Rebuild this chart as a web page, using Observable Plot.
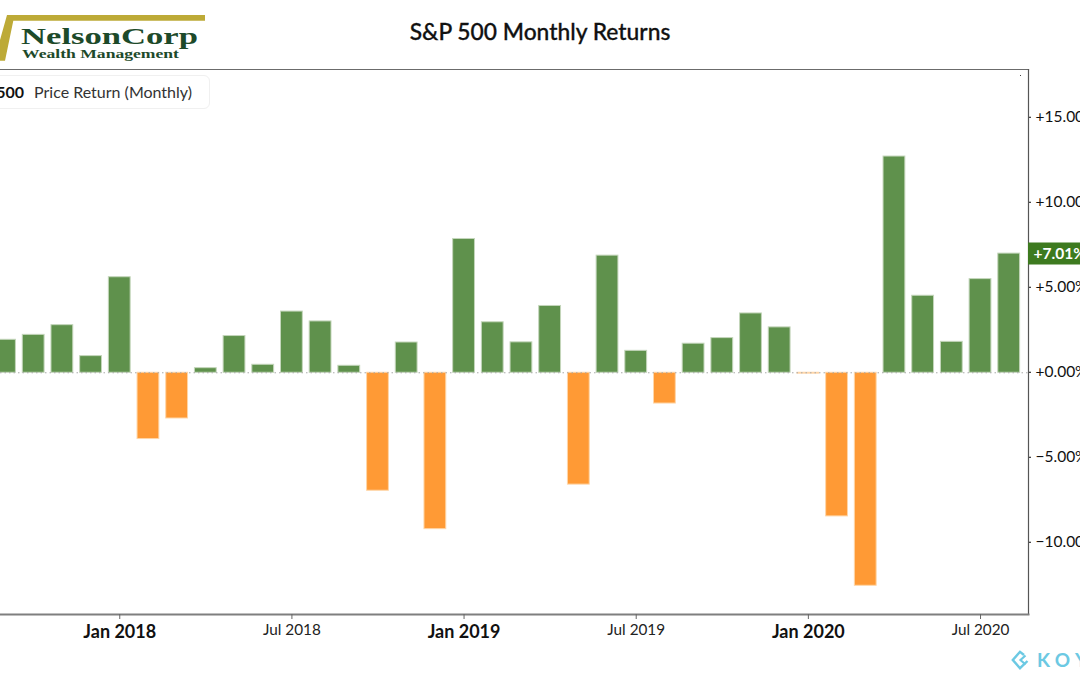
<!DOCTYPE html>
<html>
<head>
<meta charset="utf-8">
<script src="https://cdn.jsdelivr.net/npm/d3@7"></script>
<script src="https://cdn.jsdelivr.net/npm/@observablehq/plot@0.6"></script>
<style>
html,body{margin:0;padding:0;background:#fff;}
body{width:1080px;height:675px;overflow:hidden;position:relative;font-family:Lato,sans-serif;}
#head{height:60px;position:relative;}
#title{position:absolute;left:0;right:0;top:17px;text-align:center;font-size:22.8px;line-height:28px;font-weight:500;color:#111;-webkit-text-stroke:0.3px #111;}
#logo{position:absolute;left:0;top:0;}
#legend{position:absolute;left:-60px;top:75px;width:268px;height:32px;border:1px solid #f0f0f0;border-radius:6px;background:#fff;font-size:16px;line-height:31px;color:#333;text-align:right;box-sizing:content-box;white-space:nowrap;}
#legend span.inner{display:inline-block;padding-right:17px;}
#legend b{color:#111;margin-right:10px;}
#koy{position:absolute;left:1010px;top:648px;}
#speck{position:absolute;left:1020px;top:75px;width:1px;height:1px;background:#444;}
#chart svg{display:block;}
</style>
</head>
<body>
<div id="head">
  <svg id="logo" width="215" height="64">
    <path d="M7 15H205V20.7H13.3L5 60.7H0V40Z" fill="#bdaa37"/>
    <text x="21" y="44" font-family="Liberation Serif" font-weight="700" font-size="23" textLength="177" lengthAdjust="spacingAndGlyphs" fill="#1d4a2a">NelsonCorp</text>
    <text x="22" y="58" font-family="Liberation Serif" font-weight="700" font-size="12.5" textLength="157" lengthAdjust="spacingAndGlyphs" fill="#1d4a2a">Wealth Management</text>
  </svg>
  <div id="title">S&amp;P 500 Monthly Returns</div>
</div>
<div id="chart"></div>
<div id="legend"><span class="inner"><b>S&amp;P 500</b>Price Return (Monthly)</span></div>
<div id="speck"></div>
<svg id="koy" width="70" height="27">
  <polyline points="14,7 10,3.8 2.8,12 10,20.2 17.5,13" fill="none" stroke="#6cc9e3" stroke-width="2.4"/>
  <polyline points="15.5,7.5 10.5,12 15.5,16.5" fill="none" stroke="#6cc9e3" stroke-width="2.2"/>
  <text x="27" y="18.5" font-family="Lato" font-weight="700" font-size="19" letter-spacing="5.5" fill="#6cc9e3">KOYFIN</text>
</svg>
<script>
const months = ["2017-09","2017-10","2017-11","2017-12",
  "2018-01","2018-02","2018-03","2018-04","2018-05","2018-06","2018-07","2018-08","2018-09","2018-10","2018-11","2018-12",
  "2019-01","2019-02","2019-03","2019-04","2019-05","2019-06","2019-07","2019-08","2019-09","2019-10","2019-11","2019-12",
  "2020-01","2020-02","2020-03","2020-04","2020-05","2020-06","2020-07","2020-08"];
const returns = [1.94,2.23,2.80,0.98,
  5.62,-3.90,-2.69,0.27,2.16,0.47,3.60,3.02,0.41,-6.94,1.78,-9.20,
  7.87,2.97,1.79,3.93,-6.58,6.89,1.29,-1.81,1.71,2.04,3.49,2.67,
  -0.05,-8.45,-12.53,12.72,4.53,1.82,5.51,7.01];
const majorTicks = ["2018-01","2019-01","2020-01"];
const minorTicks = ["2018-07","2019-07","2020-07"];
const yTicks = [-10,-5,0,5,10,15];
const lastValue = [7.01];

const data = months.map((m,i)=>({month:m,value:returns[i]}));
const monthNames = ["Jan","Feb","Mar","Apr","May","Jun","Jul","Aug","Sep","Oct","Nov","Dec"];
const fmtMonth = s => monthNames[+s.slice(5)-1] + " " + s.slice(0,4);
const fmtPct = d => d3.format("+.2f")(d) + "%";
const green="#5f914c", orange="#ff9a35";

const plot = Plot.plot({
  width:1080, height:615,
  marginLeft:0, marginRight:52, marginTop:9, marginBottom:61,
  style:{fontFamily:"Lato, sans-serif",background:"transparent",overflow:"hidden"},
  x:{type:"band",domain:months,range:[-13.3,1026.5],padding:0.24,align:0.5,round:false,label:null},
  y:{domain:[-14.22,17.84],label:null},
  marks:[
    Plot.barY(data,{x:"month",y:"value",
      fill:d=>d.value>=0?green:orange,
      stroke:d=>d.value>=0?"#c4d6bb":"#ffd6a8",strokeWidth:1}),
    Plot.ruleY([0],{stroke:"#a9a9a9",strokeWidth:1,strokeDasharray:"1.5 3"}),
    Plot.frame({anchor:"top",stroke:"#6b6b6b",strokeWidth:1.2}),
    Plot.frame({anchor:"right",stroke:"#555",strokeWidth:1.2}),
    Plot.frame({anchor:"bottom",stroke:"#7f7f7f",strokeWidth:2}),
    Plot.axisX({ticks:majorTicks,tickFormat:fmtMonth,label:null,tickSize:5,tickPadding:6,fontSize:18,fontWeight:700,fill:"#111",stroke:"#666"}),
    Plot.axisX({ticks:minorTicks,tickFormat:fmtMonth,label:null,tickSize:5,tickPadding:5,fontSize:15.3,fill:"#222",stroke:"#666"}),
    Plot.axisY({anchor:"right",ticks:yTicks,tickFormat:fmtPct,label:null,tickSize:2,tickPadding:5,fontSize:15.5,fill:"#111",stroke:"#111",dy:-0.5}),
    Plot.ruleY(lastValue,{stroke:"#3d7a1f",strokeWidth:22,insetLeft:1028,insetRight:-52}),
    Plot.axisY({anchor:"right",ticks:lastValue,tickFormat:fmtPct,label:null,tickSize:0,tickPadding:5,fontSize:15.5,fontWeight:700,fill:"#fff",dy:0.5})
  ]
});
document.getElementById("chart").appendChild(plot);
</script>
</body>
</html>
